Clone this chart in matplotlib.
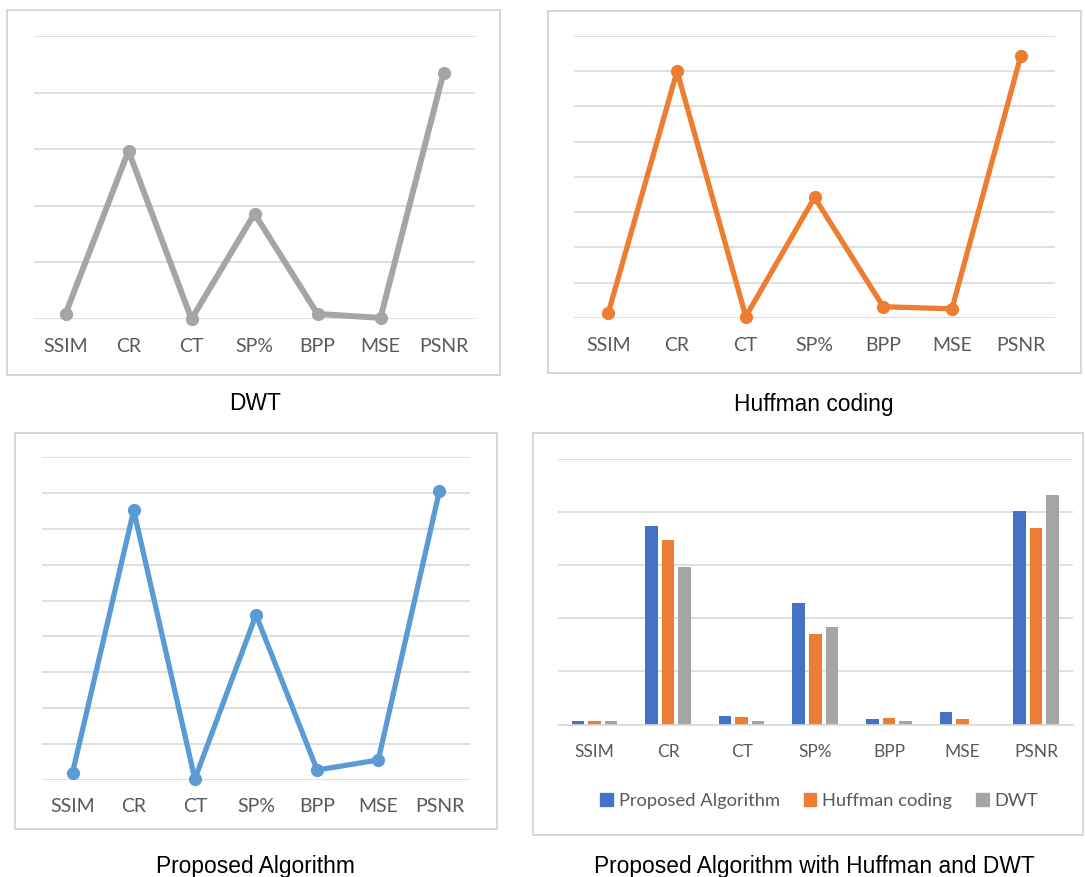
import matplotlib
matplotlib.use("Agg")
import matplotlib.pyplot as plt
from matplotlib.patches import Rectangle, Patch
import numpy as np

metrics = ["SSIM", "CR", "CT", "SP%", "BPP", "MSE", "PSNR"]

# per-method results
dwt = [0.9, 29.7, 0.0, 18.6, 0.9, 0.2, 43.5]
huffman = [0.75, 35.0, 0.2, 17.1, 1.6, 1.3, 37.1]
proposed = [1.0, 37.6, 0.1, 23.0, 1.35, 2.75, 40.3]

# values for the grouped comparison
cmp_proposed = [0.6, 37.4, 1.6, 22.9, 1.0, 2.4, 40.2]
cmp_huffman = [0.6, 34.8, 1.45, 17.1, 1.2, 1.0, 37.0]
cmp_dwt = [0.6, 29.6, 0.6, 18.3, 0.6, 0.0, 43.2]

W, H = 1085, 877
GRID = "#d9d9d9"
TXT = "#595959"
TICK_FONT = "Lato"
CAP_FONT = "Liberation Sans"

fig = plt.figure(figsize=(W / 100, H / 100), dpi=100)


def add_axes(left, top, right, bottom):
    return fig.add_axes([left / W, 1 - bottom / H, (right - left) / W, (bottom - top) / H])


def box(left, top, right, bottom):
    fig.patches.append(Rectangle((left / W, 1 - bottom / H), (right - left) / W, (bottom - top) / H,
                                 transform=fig.transFigure, fill=False, edgecolor="#d0d0d0", lw=1.2))


def style(ax, ymax, step, fs=14, pad=14):
    x = np.arange(len(metrics))
    ax.set_xlim(-0.5, len(metrics) - 0.5)
    ax.set_ylim(0, ymax)
    ax.set_yticks(np.arange(0, ymax + 0.01, step))
    ax.yaxis.grid(True, color=GRID, lw=1.2)
    ax.set_axisbelow(True)
    ax.set_xticks(x)
    ax.set_xticklabels(metrics, fontsize=fs, color=TXT, family=TICK_FONT)
    ax.tick_params(axis="x", length=0, pad=pad)
    ax.tick_params(axis="y", length=0, labelleft=False)
    for s in ax.spines.values():
        s.set_visible(False)
    return x


def line_panel(rect, values, color, ymax, step, lw, pad=14):
    ax = add_axes(*rect)
    x = style(ax, ymax, step, pad=pad)
    ax.plot(x, values, color=color, lw=lw, marker="o", markersize=8.5, clip_on=False,
            solid_joinstyle="round")
    return ax


box(7, 10, 500, 375)
box(548, 11, 1081, 373)
box(15, 433, 497, 829)
box(533, 433, 1083, 835)

line_panel((34, 36, 475, 319), dwt, "#a5a5a5", 50, 10, 4.3)
line_panel((574, 36, 1055, 318), huffman, "#ed7d31", 40, 5, 3.8)
line_panel((42, 457.3, 470, 779.7), proposed, "#5b9bd5", 45, 5, 3.8, pad=13)

# grouped bars
ax4 = add_axes(557.6, 459, 1073, 724.5)
x = style(ax4, 50, 10, fs=12.5, pad=14)
bw = 0.17
off = 0.225
ax4.bar(x - off, cmp_proposed, bw, color="#4472c4", label="Proposed Algorithm")
ax4.bar(x, cmp_huffman, bw, color="#ed7d31", label="Huffman coding")
ax4.bar(x + off, cmp_dwt, bw, color="#a5a5a5", label="DWT")
ax4.spines["bottom"].set_visible(True)
ax4.spines["bottom"].set_color(GRID)
ax4.spines["bottom"].set_linewidth(1.2)

handles = [Patch(color="#4472c4"), Patch(color="#ed7d31"), Patch(color="#a5a5a5")]
fig.legend(handles, ["Proposed Algorithm", "Huffman coding", "DWT"], loc="center",
           bbox_to_anchor=(819 / W, 1 - 801 / H), ncol=3, frameon=False,
           handlelength=0.7, handleheight=0.7, handletextpad=0.3, columnspacing=1.3,
           prop={"family": TICK_FONT, "size": 13.2}, labelcolor=TXT)

captions = [("DWT", 255, 404), ("Huffman coding", 814, 405),
            ("Proposed Algorithm", 255, 866), ("Proposed Algorithm with Huffman and DWT", 814, 866)]
for text, cx, cy in captions:
    fig.text(cx / W, 1 - cy / H, text, ha="center", va="center", fontsize=16.4,
             family=CAP_FONT, color="black")

fig.savefig("out.png", dpi=100)
